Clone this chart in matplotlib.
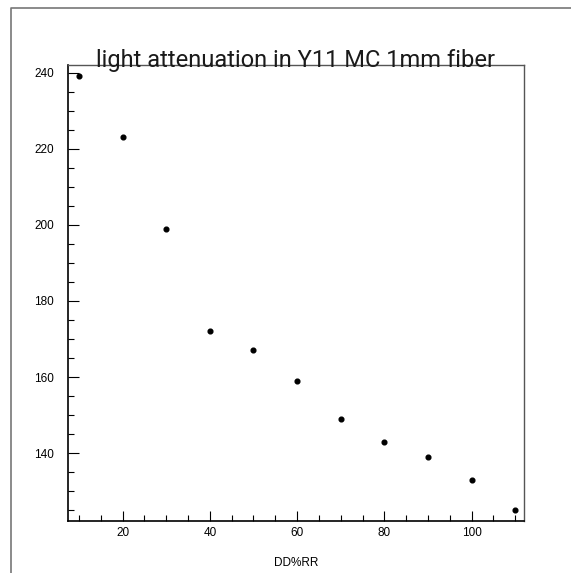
import matplotlib
matplotlib.use("Agg")
import matplotlib.pyplot as plt
from matplotlib.lines import Line2D
from matplotlib.ticker import MultipleLocator

# data
distance = [10, 20, 30, 40, 50, 60, 70, 80, 90, 100, 110]
light = [239, 223, 199, 172, 167, 159, 149, 143, 139, 133, 125]
title = "light attenuation in Y11 MC 1mm fiber"
xlabel = "DD%RR"

W, H = 571, 573
fig = plt.figure(figsize=(W / 100, H / 100), dpi=100)
ax = fig.add_axes([68 / W, 1 - 520.5 / H, (524 - 68) / W, (520.5 - 65) / H])

ax.plot(distance, light, "o", color="black", markersize=3.4, linestyle="none")

ax.set_xlim(7.5, 112)
ax.set_ylim(122.3, 242)
ax.xaxis.set_major_locator(MultipleLocator(20))
ax.xaxis.set_minor_locator(MultipleLocator(5))
ax.yaxis.set_major_locator(MultipleLocator(20))
ax.yaxis.set_minor_locator(MultipleLocator(5))
ax.tick_params(which="both", direction="in", top=False, right=False,
               labelsize=8.5, color="black", width=0.8)
ax.tick_params(axis="x", which="major", length=7, pad=5)
ax.tick_params(axis="x", which="minor", length=4)
ax.tick_params(axis="y", which="major", length=8, pad=10)
ax.tick_params(axis="y", which="minor", length=4)
for lab in ax.get_xticklabels() + ax.get_yticklabels():
    lab.set_fontfamily("Liberation Sans")

for side in ["left", "bottom"]:
    ax.spines[side].set_linewidth(1.2)
    ax.spines[side].set_color("black")
for side in ["top", "right"]:
    ax.spines[side].set_linewidth(1.0)
    ax.spines[side].set_color("#555555")

ax.set_xlabel(xlabel, fontsize=8.5, family="Liberation Sans", labelpad=13)
fig.text(296 / W, 1 - 66.5 / H, title, ha="center", va="baseline",
         fontsize=17, family=["Roboto", "DejaVu Sans"], color="#1a1a1a")

# outer page frame (top and left only)
fig.add_artist(Line2D([11 / W, 11 / W, 1], [0, 1 - 7.5 / H, 1 - 7.5 / H],
                      transform=fig.transFigure, color="#777777", linewidth=1.2))

fig.savefig("out.png", dpi=100)
